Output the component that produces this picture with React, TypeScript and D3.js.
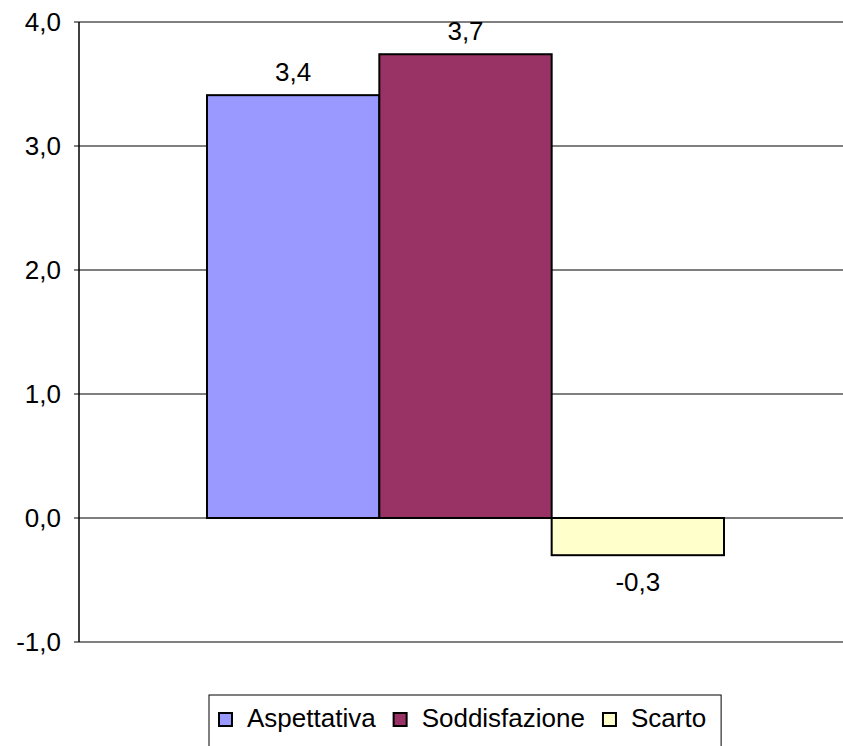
import React from "react";
import * as d3 from "d3";

const series = ["Aspettativa", "Soddisfazione", "Scarto"];
const values = [3.41, 3.74, -0.3];
const colors = ["#9999FF", "#993366", "#FFFFCC"];
const yTicks = [-1, 0, 1, 2, 3, 4];

const FONT = "'Liberation Sans', Arial, sans-serif";
const FS = 26;

function measure(text: string): number {
  if (typeof document === "undefined") return text.length * FS * 0.5;
  const c = document.createElement("canvas").getContext("2d");
  if (!c) return text.length * FS * 0.5;
  c.font = `${FS}px 'Liberation Sans', Arial, sans-serif`;
  return c.measureText(text).width;
}

export default function App() {
  const W = 843, H = 746;
  const plotLeft = 79, plotRight = 843;
  const y = d3.scaleLinear().domain([-1, 4]).range([642, 22]);
  const x = d3.scaleBand<string>().domain(series).range([207, 724]).paddingInner(0).paddingOuter(0);
  const fmt = (v: number) => d3.format(".1f")(v).replace(".", ",").replace("−", "-");

  const legTop = 695;
  const legSwY = 713;
  const legBase = 727;
  let cur = 219;
  const legItems = series.map((s, i) => {
    const sx = cur;
    const tx = sx + 28;
    const tw = measure(s);
    cur = tx + tw + 18;
    return { s, i, sx, tx };
  });
  const legRight = cur - 18 + 15;

  return (
    <svg width={W} height={H} style={{ position: "absolute", left: 0, top: 0, display: "block", background: "#fff" }} fontFamily={FONT}>
      {yTicks.map((t) => {
        const isEdge = t === -1 || t === 4;
        return (
          <g key={t}>
            <line x1={plotLeft} x2={plotRight} y1={y(t)} y2={y(t)} stroke={isEdge ? "#808080" : "#000"} strokeWidth={isEdge ? 2 : 1} />
            <line x1={74} x2={plotLeft} y1={y(t)} y2={y(t)} stroke="#000" strokeWidth={1} />
            <text x={61} y={y(t)} dy="0.36em" textAnchor="end" fontSize={FS} fill="#000">{fmt(t)}</text>
          </g>
        );
      })}
      {series.map((s, i) => {
        const v = values[i];
        const y0 = y(Math.max(0, v));
        const h = Math.abs(y(v) - y(0));
        const cx = (x(s) as number) + x.bandwidth() / 2;
        return (
          <g key={s}>
            <rect x={x(s)} y={y0} width={x.bandwidth()} height={h} fill={colors[i]} stroke="#000" strokeWidth={2} />
            <text x={cx} y={v >= 0 ? y(v) - 14 : y(v) + 36} textAnchor="middle" fontSize={FS} fill="#000">{fmt(v)}</text>
          </g>
        );
      })}
      <line x1={plotLeft} x2={plotLeft} y1={y(4)} y2={y(-1)} stroke="#000" strokeWidth={1.5} />
      <rect x={209} y={legTop} width={legRight - 209} height={70} fill="#fff" stroke="#000" strokeWidth={1} />
      {legItems.map(({ s, i, sx, tx }) => (
        <g key={s}>
          <rect x={sx} y={legSwY} width={13} height={13} fill={colors[i]} stroke="#000" strokeWidth={2} />
          <text x={tx} y={legBase} fontSize={FS} fill="#000">{s}</text>
        </g>
      ))}
    </svg>
  );
}
